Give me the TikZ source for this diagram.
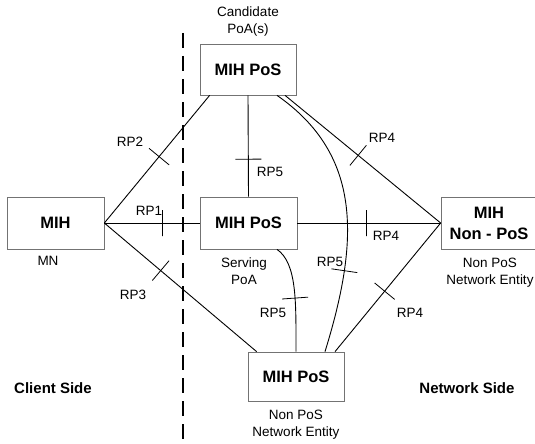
\documentclass[tikz,border=0pt]{standalone}
\usepackage{fontspec}
\setmainfont{Liberation Sans}
\begin{document}
\begin{tikzpicture}[x=1pt,y=-1pt,
  entity/.style={draw=black!55,line width=0.7pt,rectangle,inner sep=0pt,
    align=center,font=\fontsize{16.5}{21}\selectfont\bfseries},
  link/.style={line width=0.9pt,black},
  rplabel/.style={font=\fontsize{13.5}{16}\selectfont,inner sep=0pt},
  caption/.style={font=\fontsize{13.5}{17}\selectfont,align=center,inner sep=0pt},
  side/.style={font=\fontsize{15}{18}\selectfont\bfseries,inner sep=0pt},
  tickmark/.style={draw=black,line width=0.8pt,rectangle,inner sep=0pt,
    minimum width=0pt,minimum height=26pt,sloped}]
\useasboundingbox (0,0) rectangle (535,444);

% entities
\node[entity,minimum width=97pt,minimum height=52pt] (mn) at (55.5,223) {MIH};
\node[entity,minimum width=96pt,minimum height=51pt] (cand) at (248,69.5) {MIH PoS};
\node[entity,minimum width=97pt,minimum height=52pt] (serv) at (248.5,223) {MIH PoS};
\node[entity,minimum width=96pt,minimum height=52pt] (nonpos) at (489,223) {MIH\\Non - PoS};
\node[entity,minimum width=96pt,minimum height=49pt] (bot) at (296,376.5) {MIH PoS};

% captions
\node[caption] (capcand) at (248,22) {Candidate\\PoA(s)};
\node[caption] (capmn) at (48,261) {MN};
\node[caption] (capserv) at (244,271) {Serving\\PoA};
\node[caption] (capnon) at (490,273) {Non PoS\\Network Entity};
\node[caption] (capbot) at (296,425) {Non PoS\\Network Entity};
\node[side] (client) at (53,388) {Client Side};
\node[side] (network) at (467,388) {Network Side};

% client / network boundary
\coordinate (dtop) at (183,33);
\coordinate (dbot) at (183,446);
\draw[line width=2.6pt,dash pattern=on 15pt off 8pt] (dtop) -- (dbot);

% reference points
\draw[link] (mn.east) -- ([xshift=10pt]cand.south west)
  node[tickmark,pos=0.52] (t2) {};
\draw[link] (mn.east) -- (serv.west)
  node[tickmark,pos=0.61] (t1) {};
\draw[link] (mn.east) -- ([xshift=9pt]bot.north west)
  node[tickmark,pos=0.37] (t3) {};
\draw[link] (cand.south) -- (serv.north)
  node[tickmark,pos=0.63] (t5a) {};
\draw[link] ([xshift=37pt]cand.south) -- (nonpos.west)
  node[tickmark,pos=0.47] (t4a) {};
\draw[link] (serv.east) -- (nonpos.west)
  node[tickmark,pos=0.48] (t4b) {};
\draw[link] ([xshift=39pt]bot.north) -- (nonpos.west)
  node[tickmark,pos=0.47] (t4c) {};
\draw[link] ([xshift=29pt]cand.south) .. controls +(86,60) and +(34,-110) .. ([xshift=29pt]bot.north)
  node[tickmark,pos=0.74] (t5b) {};
\draw[link] ([xshift=28.5pt]serv.south) .. controls +(20,14) and +(0,-50) .. (bot.north)
  node[tickmark,pos=0.6] (t5c) {};

% labels
\node[rplabel] (l1) at (149,211) {RP1};
\node[rplabel] (l2) at (130,142) {RP2};
\node[rplabel] (l3) at (133,295) {RP3};
\node[rplabel] (l5a) at (270,172) {RP5};
\node[rplabel] (l4a) at (382,138) {RP4};
\node[rplabel] (l4b) at (386,236) {RP4};
\node[rplabel] (l5b) at (330,262) {RP5};
\node[rplabel] (l5c) at (273,313) {RP5};
\node[rplabel] (l4c) at (410,313) {RP4};
\end{tikzpicture}
\end{document}
